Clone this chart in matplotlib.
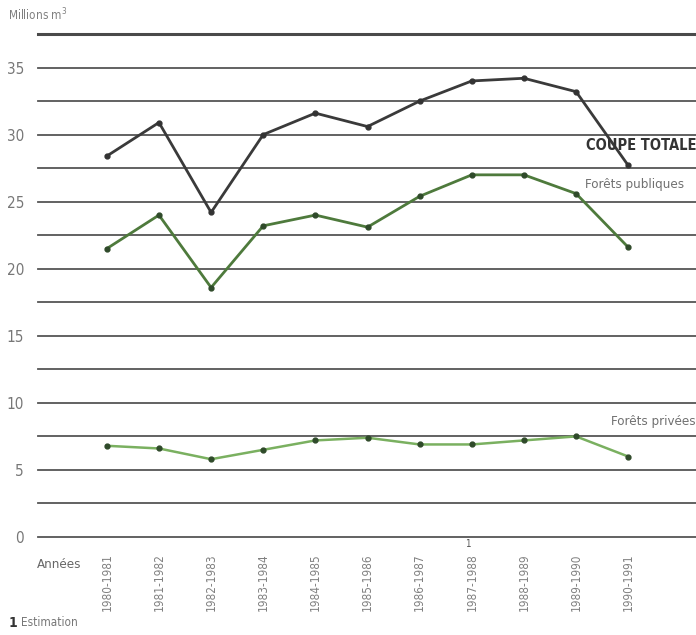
import numpy as np
import matplotlib.pyplot as plt

# Données (millions de m3)
annees = ['1980-1981', '1981-1982', '1982-1983', '1983-1984', '1984-1985',
          '1985-1986', '1986-1987', '1987-1988', '1988-1989', '1989-1990',
          '1990-1991']
coupe_totale = [28.4, 30.9, 24.2, 30.0, 31.6, 30.6, 32.5, 34.0, 34.2, 33.2, 27.7]
forets_publiques = [21.5, 24.0, 18.6, 23.2, 24.0, 23.1, 25.4, 27.0, 27.0, 25.6, 21.6]
forets_privees = [6.8, 6.6, 5.8, 6.5, 7.2, 7.4, 6.9, 6.9, 7.2, 7.5, 6.0]
yticks = [0, 5, 10, 15, 20, 25, 30, 35]

plt.rcParams['font.family'] = ['DejaVu Sans']
plt.rcParams['font.stretch'] = 'condensed'

W, H = 696, 635
fig = plt.figure(figsize=(W / 100, H / 100), dpi=100)
# axe: gauche x=38, droite x=696, haut y=34 (37.5), bas y=537 (0)
ax = fig.add_axes([38 / W, 1 - 537 / H, (696 - 38) / W, (537 - 34) / H])
ax.set_ylim(0, 37.5)
x = np.arange(len(annees))
ax.set_xlim(-1.32, 11.3)

gris = '#555555'
for v in np.arange(0, 37.6, 2.5):
    lw = 2.2 if v == 37.5 else 1.3
    ax.axhline(v, color='#4a4a4a' if v == 37.5 else gris, lw=lw, zorder=1, clip_on=False)

ax.plot(x, coupe_totale, color='#3a3a3a', lw=2.0, marker='o', ms=3.5,
        mfc='#333333', mec='#333333', zorder=3)
ax.plot(x, forets_publiques, color='#4e7a3c', lw=2.0, marker='o', ms=3.5,
        mfc='#2f4a2a', mec='#2f4a2a', zorder=3)
ax.plot(x, forets_privees, color='#7ab060', lw=1.8, marker='o', ms=3.5,
        mfc='#2f4a2a', mec='#2f4a2a', zorder=3)

for s in ax.spines.values():
    s.set_visible(False)
ax.set_yticks(yticks)
ax.set_yticklabels([str(v) for v in yticks], fontsize=11, color='#777777')
ax.tick_params(axis='y', length=0, pad=10)
ax.set_xticks([])

for i, lab in enumerate(annees):
    ax.text(i, -1.2, lab, rotation=90, ha='center', va='top', fontsize=8.5,
            color='#808080', clip_on=False)
ax.text(6.92, -0.9, '1', fontsize=7, color='#555555', ha='center', va='bottom',
        clip_on=False)
fig.text(37 / W, 1 - 565 / H, 'Années', fontsize=9.5, color='#666666', va='center')
fig.text(9 / W, 1 - 623 / H, '1', fontsize=10, fontweight='bold', color='#333333',
         va='center')
fig.text(21 / W, 1 - 623 / H, 'Estimation', fontsize=8.5, color='#777777', va='center')
fig.text(8 / W, 1 - 15 / H, 'Millions m$^3$', fontsize=8.5, color='#808080', va='center')

ax.text(11.3, 29.2, 'COUPE TOTALE', fontsize=10.5, fontweight='bold', color='#333333',
        ha='right', va='center')
ax.text(11.07, 26.3, 'Forêts publiques', fontsize=9.5, color='#707070',
        ha='right', va='center')
ax.text(11.3, 8.6, 'Forêts privées', fontsize=9.5, color='#707070',
        ha='right', va='center')

fig.savefig('out.png', dpi=100)
